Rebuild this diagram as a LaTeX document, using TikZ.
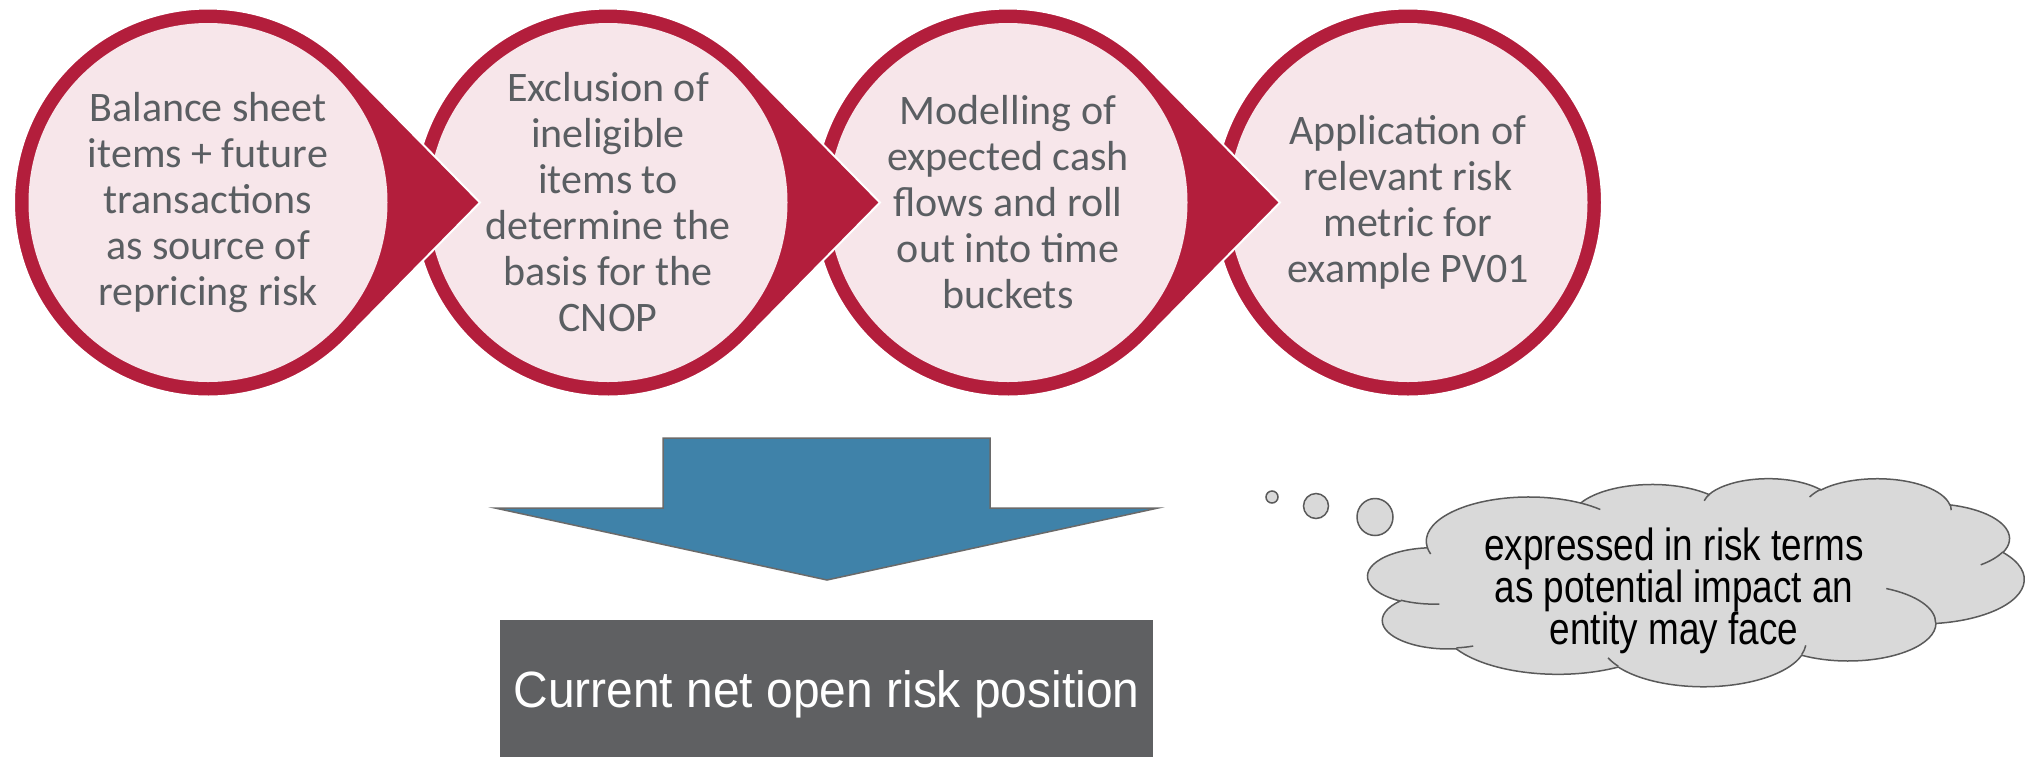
\documentclass[tikz,border=0pt]{standalone}
\usepackage{fontspec}
\setmainfont{Carlito}
\newfontfamily\arialfont[FakeStretch=0.94]{Liberation Sans}
\newfontfamily\arialnarrow[FakeStretch=0.82]{Liberation Sans}
\definecolor{cred}{HTML}{B31E3C}
\definecolor{cpink}{HTML}{F7E6EA}
\definecolor{ctext}{HTML}{5A5E62}
\definecolor{cblue}{HTML}{3F82A9}
\definecolor{carrowline}{HTML}{6A6A6A}
\definecolor{cbox}{HTML}{5F6062}
\definecolor{ccloud}{HTML}{D9D9D9}
\definecolor{ccloudline}{HTML}{5A5A5A}
\lineskiplimit=-20pt
% visual (OOXML) angle -> parametric angle for elliptical arcs
\newcommand\ooprep[5]{%
  \pgfmathsetmacro\ooa{#4}%
  \pgfmathsetmacro\oob{#4+#5}%
  \pgfmathsetmacro\ooA{atan2(#2*sin(\ooa),#3*cos(\ooa))}%
  \pgfmathsetmacro\ooB{atan2(#2*sin(\oob),#3*cos(\oob))}%
  \pgfmathsetmacro\ood{(\ooB-\ooA-(#5))/360}%
  \pgfmathsetmacro\ook{round(\ood)}%
  \pgfmathsetmacro\ooB{\ooB-360*(\ook)}%
  \expandafter\xdef\csname oo#1s\endcsname{\ooA}%
  \expandafter\xdef\csname oo#1e\endcsname{\ooB}%
}
\ooprep{a}{6.753}{9.190}{-190.4875}{123.7805}
\ooprep{b}{5.333}{7.267}{-144.1024}{89.9452}
\ooprep{c}{4.365}{5.945}{-145.8079}{99.7230}
\ooprep{d}{4.857}{6.595}{-130.9861}{117.2417}
\ooprep{e}{5.333}{7.273}{-78.7089}{109.0269}
\ooprep{f}{6.775}{9.220}{-46.2673}{130.2690}
\ooprep{g}{5.785}{7.867}{0.6250}{114.0333}
\ooprep{h}{6.752}{9.215}{22.4516}{115.1726}
\ooprep{i}{7.720}{10.543}{66.2426}{75.7110}
\ooprep{j}{4.360}{5.918}{-274.9421}{146.7356}
\ooprep{k}{4.345}{5.945}{-246.8285}{152.5189}
\ooprep{p}{4.345}{5.945}{86.7420}{26.4295}
\ooprep{q}{4.360}{5.918}{73.6105}{11.4475}
\ooprep{r}{6.752}{9.215}{137.6242}{14.0811}
\ooprep{s}{6.752}{9.215}{6.4533}{15.9984}
\ooprep{t}{5.785}{7.867}{-70.2924}{70.9174}
\ooprep{u}{5.333}{7.273}{30.3180}{27.7515}
\ooprep{v}{4.857}{6.595}{-13.7443}{14.8589}
\ooprep{w}{4.857}{6.595}{-149.1815}{18.1954}
\ooprep{x}{4.365}{5.945}{-163.4943}{17.6864}
\ooprep{y}{6.753}{9.190}{-66.7070}{12.3194}
\ooprep{z}{6.753}{9.190}{157.6544}{11.8582}
\tikzset{
  redshape/.style={fill=cred, draw=white, line width=1pt},
  pinkdisc/.style={circle, fill=cpink, inner sep=0pt, minimum size=179.5pt,
    align=center, text=ctext, font=\fontsize{21pt}{23pt}\selectfont},
  blockarrow/.style={fill=cblue, draw=carrowline, line width=0.75pt, line join=miter},
  resultbox/.style={fill=cbox, inner sep=0pt, minimum width=326.5pt, minimum height=68.5pt,
    anchor=north west},
  boxtext/.style={text=white, inner sep=0pt, font=\arialfont\fontsize{25.5pt}{28pt}\selectfont},
  cloudline/.style={fill=ccloud, draw=ccloudline, line width=0.75pt},
  creaseline/.style={draw=ccloudline, line width=0.75pt},
  cloudtext/.style={align=center, text=black, inner sep=0pt,
    font=\arialnarrow\fontsize{22.5pt}{21pt}\selectfont}
}
\begin{document}
\begin{tikzpicture}[x=0.5pt,y=-0.5pt]
\useasboundingbox (0,0) rectangle (2026,757);
% step 4 (plain ring)
\fill[redshape] (1408,202.5) circle[radius=194];
\node[pinkdisc] (s4) at (1408,202.5) {Application of\\relevant risk\\metric for\\example PV01};
% step 3
\fill[redshape] (1008,202.5) ++(-44.5:194) arc[start angle=-44.5, end angle=-315.5, radius=194] -- (1280,202.5) -- cycle;
\node[pinkdisc] (s3) at (1008,202.5) {Modelling of\\expected cash\\flows and roll\\out into time\\buckets};
% step 2
\fill[redshape] (608,202.5) ++(-44.5:194) arc[start angle=-44.5, end angle=-315.5, radius=194] -- (880,202.5) -- cycle;
\node[pinkdisc] (s2) at (608,202.5) {Exclusion of\\ineligible\\items to\\determine the\\basis for the\\CNOP};
% step 1
\fill[redshape] (208,202.5) ++(-44.5:194) arc[start angle=-44.5, end angle=-315.5, radius=194] -- (480,202.5) -- cycle;
\node[pinkdisc] (s1) at (208,202.5) {Balance sheet\\items + future\\transactions\\as source of\\repricing risk};
% block arrow
\draw[blockarrow] (663,438) -- (990,438) -- (990,508) -- (1158,508) -- (827,580) -- (495,508) -- (663,508) -- cycle;
% result box
\node[resultbox] (cnop) at (500,620) {};
\node[boxtext] (cnoptext) at (826.5,694) {Current net open risk position};
% thought bubbles
\draw[cloudline] (1272,497) ellipse[x radius=6, y radius=6];
\draw[cloudline] (1316,506) ellipse[x radius=12.5, y radius=12.5];
\draw[cloudline] (1375,517) ellipse[x radius=18, y radius=18.5];
% cloud
\begin{scope}[shift={(1368,478)}, x=7.5926pt, y=-2.4074pt]
\draw[cloudline] (3.900,14.370)
  arc[x radius=6.753, y radius=9.190, start angle=\ooas, end angle=\ooae]
  arc[x radius=5.333, y radius=7.267, start angle=\oobs, end angle=\oobe]
  arc[x radius=4.365, y radius=5.945, start angle=\oocs, end angle=\ooce]
  arc[x radius=4.857, y radius=6.595, start angle=\oods, end angle=\oode]
  arc[x radius=5.333, y radius=7.273, start angle=\ooes, end angle=\ooee]
  arc[x radius=6.775, y radius=9.220, start angle=\oofs, end angle=\oofe]
  arc[x radius=5.785, y radius=7.867, start angle=\oogs, end angle=\ooge]
  arc[x radius=6.752, y radius=9.215, start angle=\oohs, end angle=\oohe]
  arc[x radius=7.720, y radius=10.543, start angle=\oois, end angle=\ooie]
  arc[x radius=4.360, y radius=5.918, start angle=\oojs, end angle=\ooje]
  arc[x radius=4.345, y radius=5.945, start angle=\ooks, end angle=\ooke]
  -- cycle;
\draw[creaseline]
  (4.693,26.177) arc[x radius=4.345, y radius=5.945, start angle=\oops, end angle=\oope]
  (6.928,34.899) arc[x radius=4.360, y radius=5.918, start angle=\ooqs, end angle=\ooqe]
  (16.478,39.090) arc[x radius=6.752, y radius=9.215, start angle=\oors, end angle=\oore]
  (28.827,34.751) arc[x radius=6.752, y radius=9.215, start angle=\ooss, end angle=\oose]
  (34.129,22.954) arc[x radius=5.785, y radius=7.867, start angle=\oots, end angle=\oote]
  (41.798,15.354) arc[x radius=5.333, y radius=7.273, start angle=\oous, end angle=\ooue]
  (38.324,5.426) arc[x radius=4.857, y radius=6.595, start angle=\oovs, end angle=\oove]
  (29.078,3.952) arc[x radius=4.857, y radius=6.595, start angle=\oows, end angle=\oowe]
  (22.141,4.720) arc[x radius=4.365, y radius=5.945, start angle=\ooxs, end angle=\ooxe]
  (14.000,5.192) arc[x radius=6.753, y radius=9.190, start angle=\ooys, end angle=\ooye]
  (4.127,15.789) arc[x radius=6.753, y radius=9.190, start angle=\oozs, end angle=\ooze];
\end{scope}
\node[cloudtext] (note) at (1674,591) {expressed in risk terms\\as potential impact an\\entity may face};
\end{tikzpicture}
\end{document}
